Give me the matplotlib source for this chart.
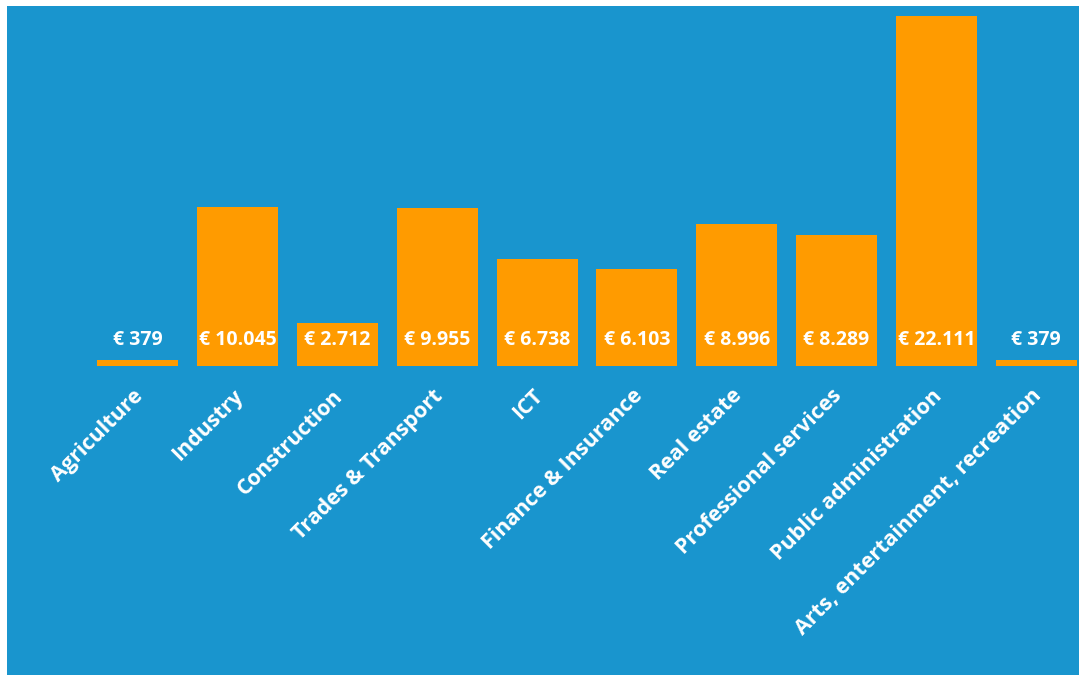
import matplotlib.pyplot as plt
from matplotlib.patches import Rectangle
from matplotlib.transforms import ScaledTranslation

# Data
sectors = [
    'Agriculture', 'Industry', 'Construction', 'Trades & Transport', 'ICT',
    'Finance & Insurance', 'Real estate', 'Professional services',
    'Public administration', 'Arts, entertainment, recreation',
]
values = [379, 10045, 2712, 9955, 6738, 6103, 8996, 8289, 22111, 379]
value_labels = ['€ 379', '€ 10.045', '€ 2.712', '€ 9.955', '€ 6.738',
                '€ 6.103', '€ 8.996', '€ 8.289', '€ 22.111', '€ 379']

BG = '#1995ce'
BAR = '#ff9b00'
W, H = 1079, 675

plt.rcParams['font.family'] = ['Open Sans', 'DejaVu Sans']

fig = plt.figure(figsize=(W / 100, H / 100), dpi=100)
fig.patch.set_facecolor('white')
fig.patches.append(Rectangle((7 / W, 0), 1 - 7 / W, 1 - 6 / H,
                             transform=fig.transFigure, facecolor=BG,
                             edgecolor='none', zorder=-10))

# axes laid out in pixel terms: bar pitch ~100px, baseline at y=366
left = 88 / W
bottom = (H - 366) / H
ax = fig.add_axes([left, bottom, 998 / W, 350 / H])
ax.patch.set_alpha(0)

x = range(len(sectors))
ax.bar(x, values, width=0.81, color=BAR, clip_on=False, zorder=2)
ax.set_xlim(-0.5, 9.5)
ax.set_ylim(0, 22111)

for i, lab in enumerate(value_labels):
    ax.annotate(lab, xy=(i, 0), xytext=(0, 26), textcoords='offset pixels',
                ha='center', va='center', color='white', fontsize=14,
                fontweight='bold', zorder=3, annotation_clip=False)

ax.set_xticks(list(x))
ax.set_xticklabels(sectors, rotation=45, ha='right', rotation_mode='anchor',
                   color='white', fontsize=15.5, fontweight='bold')
ax.tick_params(axis='x', length=0, pad=14)
shift = ScaledTranslation(-5 / 100, 0, fig.dpi_scale_trans)
for t in ax.get_xticklabels():
    t.set_transform(t.get_transform() + shift)
ax.set_yticks([])
for s in ax.spines.values():
    s.set_visible(False)

fig.savefig('out.png', dpi=100, facecolor=fig.get_facecolor())
